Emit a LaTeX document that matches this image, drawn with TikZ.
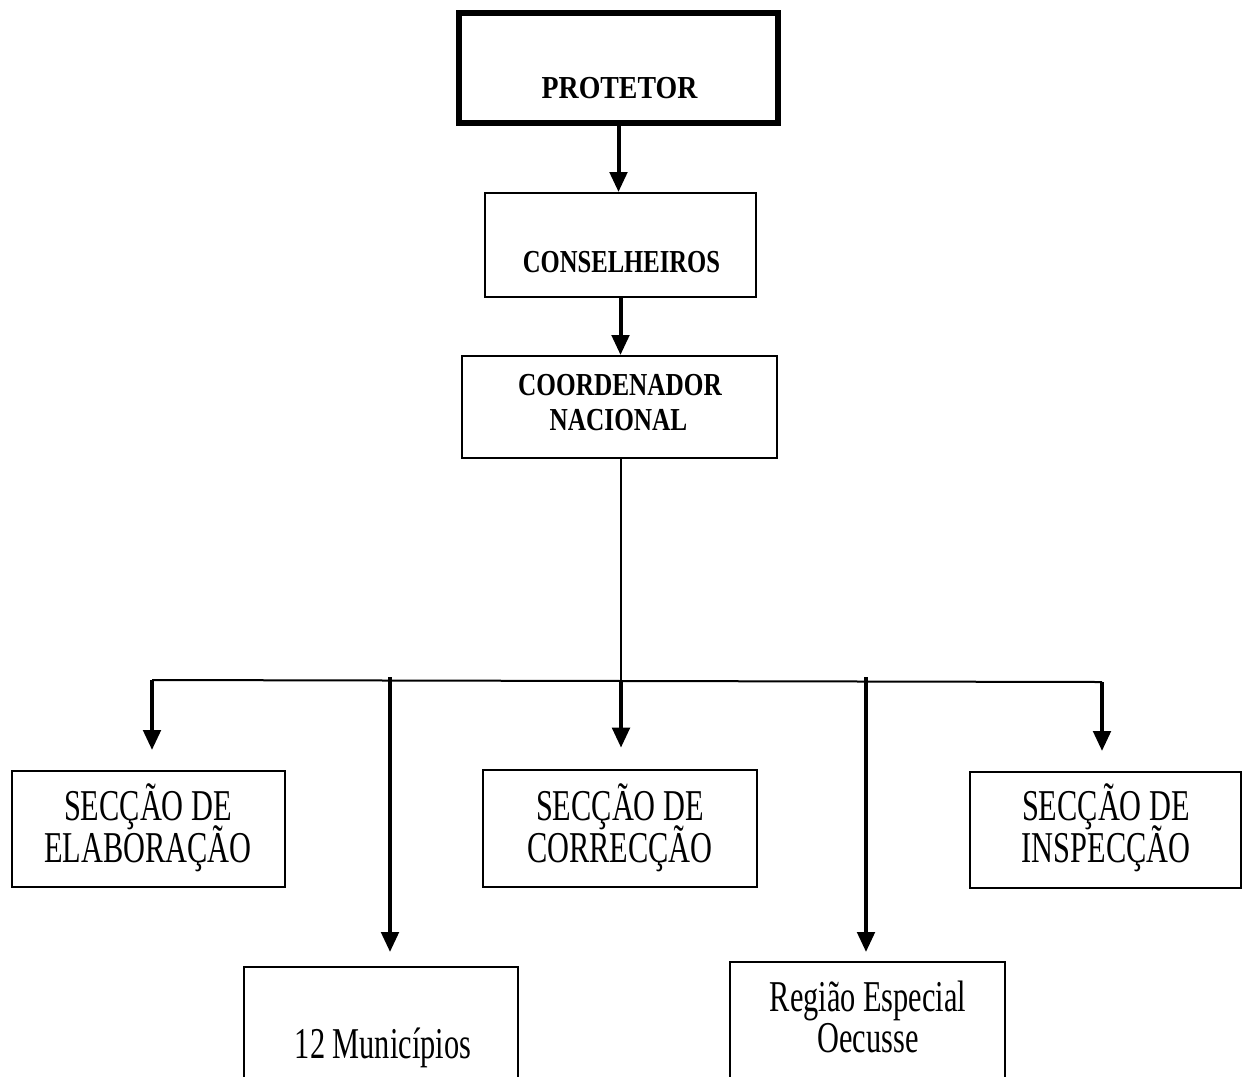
\documentclass[tikz,border=0pt]{standalone}
\usepackage{fontspec}
\setmainfont{Liberation Serif}
\newfontfamily\rfont[FakeStretch=0.69]{Liberation Serif}
\newfontfamily\bfontA[FakeStretch=0.87]{Liberation Serif}
\newfontfamily\bfontB[FakeStretch=0.77]{Liberation Serif}
\newfontfamily\bfontC[FakeStretch=0.79]{Liberation Serif}
\usetikzlibrary{arrows.meta}
\begin{document}
\begin{tikzpicture}[x=0.75pt,y=-0.75pt,
  box/.style={draw,rectangle,line width=1.5pt,inner sep=0pt},
  bx/.style 2 args={minimum width=#1*0.75pt,minimum height=#2*0.75pt},
  conn/.style={line width=3pt,-{Triangle[length=15pt,width=13pt]}},
  thinline/.style={line width=1.5pt},
  lbl/.style={inner sep=0pt,anchor=base},
  rtxt/.style={lbl,font={\rfont\fontsize{33pt}{33pt}\selectfont}},
  btxtA/.style={lbl,font={\bfontA\bfseries\fontsize{24pt}{24pt}\selectfont}},
  btxtB/.style={lbl,font={\bfontB\bfseries\fontsize{24pt}{24pt}\selectfont}},
  btxtC/.style={lbl,font={\bfontC\bfseries\fontsize{24pt}{24pt}\selectfont}}]
\useasboundingbox (0,0) rectangle (1242,1076);
\fill[white] (0,0) rectangle (1242,1076);
\clip (0,0) rectangle (1242,1076);

% boxes
\node[box,bx={319}{110},line width=5pt] (prot) at (618.5,68) {};
\node[box,bx={271}{104}] (cons) at (620.5,245) {};
\node[box,bx={315}{102}] (coord) at (619.5,407) {};
\node[box,bx={273}{116}] (elab) at (148.5,829) {};
\node[box,bx={274}{117}] (corr) at (620,828.5) {};
\node[box,bx={271}{116}] (insp) at (1105.5,830) {};
\node[box,bx={274}{200}] (mun) at (381,1067) {};
\node[box,bx={275}{200}] (reg) at (867.5,1062) {};

% texts
\node[btxtA] (tprot) at (619.5,98) {PROTETOR};
\node[btxtB] (tcons) at (621.5,272) {CONSELHEIROS};
\node[btxtC] (tcoord1) at (620,395) {COORDENADOR};
\node[btxtC] (tcoord2) at (618.5,430) {NACIONAL};
\node[rtxt] (telab1) at (148,820) {SECÇÃO DE};
\node[rtxt] (telab2) at (148,862) {ELABORAÇÃO};
\node[rtxt] (tcorr1) at (620,820) {SECÇÃO DE};
\node[rtxt] (tcorr2) at (620,862) {CORRECÇÃO};
\node[rtxt] (tinsp1) at (1106,820) {SECÇÃO DE};
\node[rtxt] (tinsp2) at (1106,862) {INSPECÇÃO};
\node[rtxt] (tmun) at (383,1058) {12 Municípios};
\node[rtxt] (treg1) at (868,1011) {Região Especial};
\node[rtxt] (treg2) at (868,1052) {Oecusse};

% bus coordinates
\coordinate (bl) at (152,680);
\coordinate (b2) at (390,677);
\coordinate (b3) at (621,681);
\coordinate (b4) at (866,677);
\coordinate (br) at (1102,682);

% connectors
\draw[conn] (prot.south) -- (prot.south |- cons.north);
\draw[conn] (cons.south) -- (cons.south |- coord.north);
\draw[thinline] (coord.south -| b3) -- (b3);
\draw[thinline] (bl) -- (br);
\draw[conn,shorten >=15pt] (bl) -- (bl |- elab.north);
\draw[conn,shorten >=10.5pt] (b2) -- (b2 |- mun.north);
\draw[conn,shorten >=16pt] (b3) -- (b3 |- corr.north);
\draw[conn,shorten >=6.75pt] (b4) -- (b4 |- reg.north);
\draw[conn,shorten >=15pt] (br) -- (br |- insp.north);
\end{tikzpicture}
\end{document}
